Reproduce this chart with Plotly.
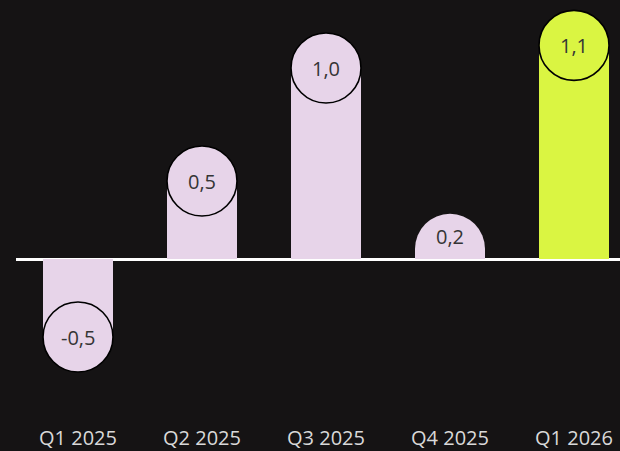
import plotly.graph_objects as go

# Quarterly values
quarters = ["Q1 2025", "Q2 2025", "Q3 2025", "Q4 2025", "Q1 2026"]
values = [-0.5, 0.5, 1.0, 0.2, 1.1]
highlight = [False, False, False, False, True]

BG = "#151314"
BAR = "#e7d4e9"
BAR_HI = "#daf542"
TEXT_DARK = "#353535"

# Layout geometry (pixels)
W, H = 620, 451
M_L, M_R, M_T, M_B = 16, 0, 0, 27
STEP_PX = 124          # distance between category centres
BAR_PX = 70            # bar / bubble diameter
R_PX = BAR_PX / 2

plot_w = W - M_L - M_R
plot_h = H - M_T - M_B
x_range = [-0.5, -0.5 + plot_w / STEP_PX]
zero_px_from_top = 259 - M_T
px_per_unit = 226.0
y_range = [-(plot_h - zero_px_from_top) / px_per_unit, zero_px_from_top / px_per_unit]

xs = list(range(len(quarters)))
colors = [BAR_HI if h else BAR for h in highlight]

fig = go.Figure()
fig.add_trace(go.Bar(
    x=xs, y=values,
    width=BAR_PX / STEP_PX,
    marker=dict(color=colors, line=dict(width=0), cornerradius="50%"),
    hoverinfo="skip",
))

shapes = []
annotations = []
for x, v, c in zip(xs, values, colors):
    bar_px = abs(v) * px_per_unit
    sign = 1 if v >= 0 else -1
    fits = bar_px >= BAR_PX
    if fits:
        # outlined bubble sitting at the end of the bar
        y0, y1 = (-BAR_PX, 0) if sign > 0 else (0, BAR_PX)
        shapes.append(dict(
            type="circle", xref="x", yref="y",
            xsizemode="pixel", ysizemode="pixel",
            xanchor=x, yanchor=v,
            x0=-R_PX, x1=R_PX, y0=y0, y1=y1,
            fillcolor=c, line=dict(color="#000000", width=1.6),
            layer="above",
        ))
        shift = R_PX
    else:
        shift = bar_px / 2
    annotations.append(dict(
        x=x, y=v, xref="x", yref="y",
        text=f"{v:.1f}".replace(".", ","),
        showarrow=False,
        yshift=-sign * shift,
        font=dict(family="Open Sans", size=20, color=TEXT_DARK),
        xanchor="center", yanchor="middle",
    ))

fig.update_layout(
    width=W, height=H,
    margin=dict(l=M_L, r=M_R, t=M_T, b=M_B),
    paper_bgcolor=BG, plot_bgcolor=BG,
    showlegend=False,
    shapes=shapes,
    annotations=annotations,
    xaxis=dict(
        range=x_range, tickvals=xs, ticktext=quarters,
        showgrid=False, zeroline=False, showline=False, ticks="",
        tickfont=dict(family="Open Sans", size=20, color="#d9d9d9"),
        automargin=False, fixedrange=True,
    ),
    yaxis=dict(
        range=y_range, showgrid=False, showticklabels=False, ticks="",
        zeroline=True, zerolinecolor="#ffffff", zerolinewidth=2.5,
        automargin=False, fixedrange=True,
    ),
)

fig.write_html("out.html", config={"displayModeBar": False})
